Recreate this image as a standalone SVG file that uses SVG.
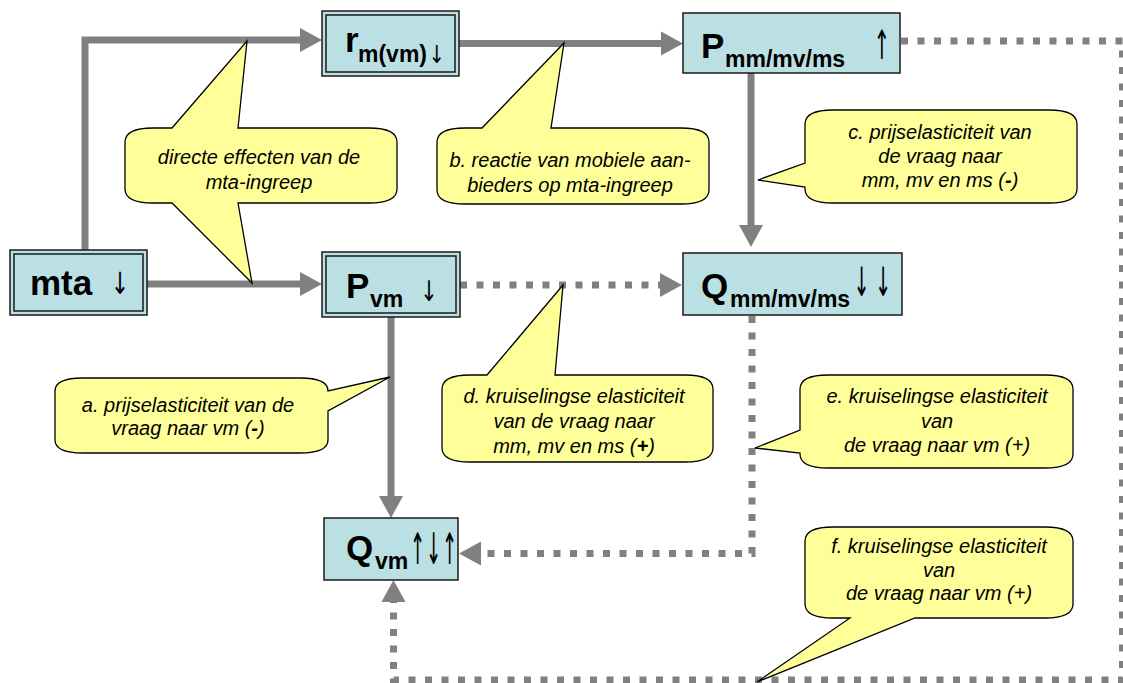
<svg xmlns="http://www.w3.org/2000/svg" width="1123" height="683" viewBox="0 0 1123 683">
<style>
.bg{fill:#FFFFFF}
.node{fill:#BBE0E3;stroke:#1a1a1a;stroke-width:1.5}
.main{font-family:"Liberation Sans",Arial,sans-serif;font-weight:bold;font-size:35px;fill:#000}
.sub{font-family:"Liberation Sans",Arial,sans-serif;font-weight:bold;font-size:23px;fill:#000}
.arw{font-family:"DejaVu Sans",sans-serif;font-size:26px;fill:#000;text-anchor:middle}
.call{fill:#FFFF99;stroke:#000;stroke-width:1.3;stroke-linejoin:miter}
.ct{font-family:"Liberation Sans",Arial,sans-serif;font-style:italic;font-size:20px;fill:#000;text-anchor:middle}
.solid{fill:none;stroke:#808080;stroke-width:7}
.dash{fill:none;stroke:#808080;stroke-width:7;stroke-dasharray:7 9.5}
</style>
<defs>
<marker id="ah" markerUnits="userSpaceOnUse" markerWidth="22" markerHeight="24" refX="0" refY="12" orient="auto" overflow="visible">
<path d="M0,0 L22,12 L0,24 Z" fill="#808080"/>
</marker>
</defs>
<rect class="bg" x="0" y="0" width="1123" height="683"/>

<g id="connectors">
<path class="solid" d="M85,250 L85,40 L300,40" marker-end="url(#ah)"/>
<path class="solid" d="M147,284 L300,284" marker-end="url(#ah)"/>
<path class="solid" d="M459,43.5 L661,43.5" marker-end="url(#ah)"/>
<path class="solid" d="M751,73 L751,225" marker-end="url(#ah)"/>
<path class="solid" d="M391,317 L391,496" marker-end="url(#ah)"/>
<path class="dash" d="M460,285 L660,285" marker-end="url(#ah)"/>
<path class="dash" d="M752,316 L752,553.5 L481,553.5" marker-end="url(#ah)"/>
<path class="dash" d="M901,41 L1122.5,41 L1122.5,680 L393.5,680 L393.5,602" marker-end="url(#ah)"/>
</g>

<g id="node-mta">
<rect class="node" x="10" y="250" width="137" height="65"/>
<rect class="node" x="14" y="254" width="129" height="57"/>
<text class="main" x="30" y="295">mta</text>
<text class="arw" transform="translate(120,294) scale(0.85,1.17)">↓</text>
</g>

<g id="node-rm">
<rect class="node" x="322" y="11" width="137" height="65"/>
<rect class="node" x="326" y="15" width="129" height="57"/>
<text class="main" x="345" y="52">r</text>
<text class="sub" x="358" y="62">m(vm)</text>
<text class="arw" transform="translate(437,63) scale(0.75,0.95)">↓</text>
</g>

<g id="node-pmm">
<rect class="node" x="683" y="13" width="217" height="60"/>
<text class="main" x="701" y="58">P</text>
<text class="sub" x="725" y="67">mm/mv/ms</text>
<text class="arw" transform="translate(882,59) scale(0.75,1.55)">↑</text>
</g>

<g id="node-pvm">
<rect class="node" x="322" y="252" width="138" height="65"/>
<rect class="node" x="326" y="256" width="130" height="57"/>
<text class="main" x="346" y="298">P</text>
<text class="sub" x="370" y="307">vm</text>
<text class="arw" transform="translate(429,301) scale(0.8,1.1)">↓</text>
</g>

<g id="node-qmm">
<rect class="node" x="683" y="253" width="219" height="62"/>
<text class="main" x="701" y="298">Q</text>
<text class="sub" x="730" y="307">mm/mv/ms</text>
<text class="arw" transform="translate(875,296) scale(0.75,1.55)" style="letter-spacing:7px">↓↓</text>
</g>

<g id="node-qvm">
<rect class="node" x="324" y="518" width="134" height="62"/>
<text class="main" x="346" y="560">Q</text>
<text class="sub" x="375" y="569">vm</text>
<text class="arw" transform="translate(434,564) scale(0.7,1.67)" style="letter-spacing:1px">↑↓↑</text>
</g>

<g id="callout-direct">
<path class="call" d="M153,128 L172,128 L247,41 L238,128 L369,128 Q397,128 397,142 L397,189 Q397,203 369,203 L238,203 L252,283 L172,203 L153,203 Q125,203 125,189 L125,142 Q125,128 153,128 Z"/>
<text class="ct" x="259" y="164">directe effecten van de</text>
<text class="ct" x="259" y="189">mta-ingreep</text>
</g>

<g id="callout-b">
<path class="call" d="M465,128 L482,128 L564,43 L551,128 L681,128 Q709,128 709,142 L709,190 Q709,204 681,204 L465,204 Q437,204 437,190 L437,142 Q437,128 465,128 Z"/>
<text class="ct" x="570" y="167">b. reactie van mobiele aan-</text>
<text class="ct" x="570" y="192">bieders op mta-ingreep</text>
</g>

<g id="callout-c">
<path class="call" d="M833,110 L1049,110 Q1077,110 1077,124 L1077,189 Q1077,203 1049,203 L833,203 Q805,203 805,189 L805,187 L758,180 L805,163 L805,124 Q805,110 833,110 Z"/>
<text class="ct" x="940" y="139">c. prijselasticiteit van</text>
<text class="ct" x="940" y="163">de vraag naar</text>
<text class="ct" x="940" y="187">mm, mv en ms (<tspan font-weight="bold">-</tspan>)</text>
</g>

<g id="callout-a">
<path class="call" d="M83,378 L300,378 Q328,378 328,391 L390,377 L328,411 L328,440 Q328,453 300,453 L83,453 Q55,453 55,440 L55,391 Q55,378 83,378 Z"/>
<text class="ct" x="188" y="412">a. prijselasticiteit van de</text>
<text class="ct" x="188" y="435">vraag naar vm (<tspan font-weight="bold">-</tspan>)</text>
</g>

<g id="callout-d">
<path class="call" d="M470,375 L487,375 L563,285 L555,375 L685,375 Q713,375 713,389 L713,448 Q713,462 685,462 L470,462 Q442,462 442,448 L442,389 Q442,375 470,375 Z"/>
<text class="ct" x="574" y="403">d. kruiselingse elasticiteit</text>
<text class="ct" x="574" y="428">van de vraag naar</text>
<text class="ct" x="574" y="453">mm, mv en ms (<tspan font-weight="bold">+</tspan>)</text>
</g>

<g id="callout-e">
<path class="call" d="M828,375 L1045,375 Q1073,375 1073,389 L1073,454 Q1073,468 1045,468 L828,468 Q800,468 800,454 L800,453 L755,448 L800,430 L800,389 Q800,375 828,375 Z"/>
<text class="ct" x="937" y="403">e. kruiselingse elasticiteit</text>
<text class="ct" x="937" y="428">van</text>
<text class="ct" x="937" y="452">de vraag naar vm (+)</text>
</g>

<g id="callout-f">
<path class="call" d="M833,527 L1045,527 Q1073,527 1073,541 L1073,604 Q1073,618 1045,618 L915,618 L757,682 L850,618 L833,618 Q805,618 805,604 L805,541 Q805,527 833,527 Z"/>
<text class="ct" x="939" y="553">f. kruiselingse elasticiteit</text>
<text class="ct" x="939" y="577">van</text>
<text class="ct" x="939" y="600">de vraag naar vm (+)</text>
</g>
</svg>
